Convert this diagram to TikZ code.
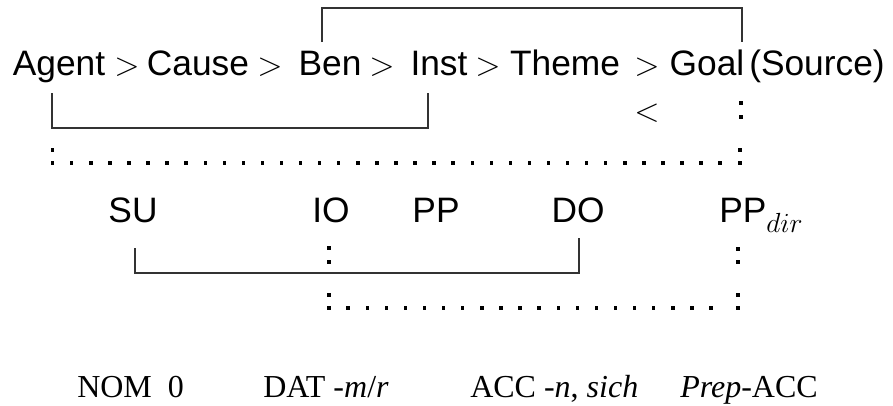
\documentclass[tikz,border=0pt]{standalone}
\usepackage{fontspec}
\setmainfont{Liberation Serif}
\setsansfont{Liberation Sans}
\newcommand\sqdot[1]{\fill #1 +(-1.7,-1.7) rectangle +(1.7,1.7);}
\begin{document}
\begin{tikzpicture}[x=0.75pt,y=-0.75pt,
  sw/.style={font=\fontsize{26.5}{30}\selectfont\sffamily, inner sep=0pt, anchor=base},
  rw/.style={font=\fontsize{24}{28}\selectfont\rmfamily, inner sep=0pt, anchor=base west},
  brk/.style={line width=1.3pt, color=black!80}]
\useasboundingbox (0,0) rectangle (893,405);
% top row
\node[sw] (agent) at (59,75) {Agent};
\node[sw] (g1) at (127,75) {$>$};
\node[sw] (cause) at (198,75) {Cause};
\node[sw] (g2) at (270,75) {$>$};
\node[sw] (ben) at (330,75) {Ben};
\node[sw] (g3) at (382,75) {$>$};
\node[sw] (inst) at (439,75) {Inst};
\node[sw] (g4) at (488,75) {$>$};
\node[sw] (theme) at (565,75) {Theme};
\node[sw] (g5) at (647,75) {$>$};
\node[sw] (goal) at (707,75) {Goal};
\node[sw] (source) at (817,75) {(Source)};
\node[sw, anchor=center] (lt) at (647,113) {$<$};
% second row
\node[sw] (su) at (133,222) {SU};
\node[sw] (io) at (331,222) {IO};
\node[sw] (pp) at (436,222) {PP};
\node[sw] (do) at (578,222) {DO};
\node[sw, anchor=base west] (ppdir) at (719,222) {PP\raisebox{-7.5pt}{\fontsize{22}{22}\selectfont$dir$}};
% bottom row
\node[rw] (nom) at (77,397) {NOM\ \ 0};
\node[rw] (dat) at (263,397) {DAT \textit{-m}/\textit{r}};
\node[rw] (acc) at (470,397) {ACC \textit{-n}, \textit{sich}};
\node[rw] (prep) at (680,397) {\textit{Prep}-ACC};
% bracket corners
\coordinate (benT) at (322,42);
\coordinate (goalT) at (742,42);
\coordinate (agentB) at (52,93);
\coordinate (instB) at (428,93);
\coordinate (suB) at (135,248);
\coordinate (doB) at (579,238);
% solid brackets
\draw[brk] (benT) -- (322,8) -| (goalT);
\draw[brk] (agentB) -- (52,128) -| (instB);
\draw[brk] (suB) -- (135,273) -| (doB);
% dotted links
\sqdot{(741,103)} \sqdot{(741,117)}
\sqdot{(52.7,150)}
\foreach \k in {0,...,35} {\sqdot{({52.7+\k*19.07},163)}}
\sqdot{(740,150)} \sqdot{(740,163)}
\sqdot{(329,248)} \sqdot{(329,262)}
\sqdot{(738,249)} \sqdot{(738,262)}
\sqdot{(329,295)}
\foreach \k in {0,...,20} {\sqdot{({329+\k*19.1},308)}}
\sqdot{(738,295)} \sqdot{(738,308)}
\end{tikzpicture}
\end{document}
